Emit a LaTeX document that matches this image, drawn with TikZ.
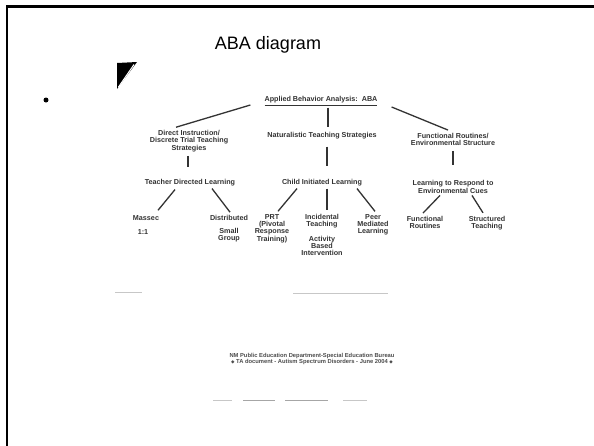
\documentclass[tikz,border=0pt]{standalone}
\usepackage{fontspec}
\setmainfont{Liberation Sans}
\newfontfamily\dejavu{DejaVu Sans}
\usetikzlibrary{calc}
\begin{document}
\begin{tikzpicture}[x=1pt,y=-1pt,
  lbl/.style={font=\fontsize{7.2}{7.2}\selectfont\bfseries, text=black!80, align=center, inner sep=0pt},
  conn/.style={draw=black!80, line width=1.3pt},
  faint/.style={draw=black!22, line width=0.7pt}]
\useasboundingbox (0,0) rectangle (594,445);
\fill[white] (0,0) rectangle (594,445);
\draw[line width=2.5pt] (7,460) -- (7,6.5) -- (610,6.5);
\node[font=\fontsize{18}{22}\selectfont] (title) at (268,45) {ABA diagram};
\node[circle, fill, inner sep=0pt, minimum size=5pt] (bullet) at (46,100) {};
% scan corner triangle
\fill (117,63) -- (137,62) -- (117,89) -- cycle;
\draw[white, line width=1pt] (134,64.5) -- (118.5,87);
% nodes
\node[lbl] (root) at (321,101) {\underline{Applied Behavior Analysis:\ \ ABA}};
\node[lbl] (di) at (189,141) {Direct Instruction/\\Discrete Trial Teaching\\Strategies};
\node[lbl] (nat) at (322,136) {Naturalistic Teaching Strategies};
\node[lbl] (fr) at (453,139.5) {Functional Routines/\\Environmental Structure};
\node[lbl] (tdl) at (190,183) {Teacher Directed Learning};
\node[lbl] (cil) at (322,183) {Child Initiated Learning};
\node[lbl] (lrc) at (453,187) {Learning to Respond to\\Environmental Cues};
\node[lbl] (mass) at (146,218) {Massec};
\node[lbl] (one) at (143,232) {1:1};
\node[lbl] (dist) at (229,218) {Distributed};
\node[lbl] (small) at (229,235) {Small\\Group};
\node[lbl] (prt) at (272,228.5) {PRT\\(Pivotal\\Response\\Training)};
\node[lbl] (inc) at (322,221.5) {Incidental\\Teaching};
\node[lbl] (abi) at (322,246) {Activity\\Based\\Intervention};
\node[lbl] (peer) at (373,225) {Peer\\Mediated\\Learning};
\node[lbl] (fun) at (425,222.5) {Functional\\Routines};
\node[lbl] (st) at (487,223) {Structured\\Teaching};
% connectors
\draw[conn] ($(root.west)+(-14,4)$) -- ($(di.north)+(-13,-3)$);
\draw[conn] ($(root.south)+(7,2)$) -- ($(nat.north)+(6,-5)$);
\draw[conn] ($(root.east)+(14,6)$) -- ($(fr.north)+(-5,-3)$);
\draw[conn] ($(di.south)+(-1,4)$) -- ($(tdl.north)+(-2,-12)$);
\draw[conn] ($(nat.south)+(5,7)$) -- ($(cil.north)+(5,-13)$);
\draw[conn] ($(fr.south)+(0,5)$) -- ($(lrc.north)+(0,-16)$);
\draw[conn] ($(tdl.south)+(-15,3)$) -- ($(mass.north)+(12,-5)$);
\draw[conn] ($(tdl.south)+(22,2)$) -- ($(dist.north)+(1,-3)$);
\draw[conn] ($(cil.south)+(-25,2)$) -- ($(prt.north)+(6,-3)$);
\draw[conn] ($(cil.south)+(5,2)$) -- ($(inc.north)+(5,-4)$);
\draw[conn] ($(cil.south)+(35,2)$) -- ($(peer.north)+(2,-3)$);
\draw[conn] ($(lrc.south)+(-13,2)$) -- ($(fun.north)+(-2,-3)$);
\draw[conn] ($(lrc.south)+(19,2)$) -- ($(st.north)+(-4,-3)$);
% footer
\node[lbl, font=\fontsize{5.8}{6.5}\selectfont\bfseries, text=black!70] (foot) at (312,359) {NM Public Education Department-Special Education Bureau\\{\dejavu\fontsize{4.5}{5}\selectfont ◆} TA document - Autism Spectrum Disorders - June 2004 {\dejavu\fontsize{4.5}{5}\selectfont ◆}};
% faint scan lines
\draw[faint] (115,292) -- (142,292);
\draw[faint] (293,293) -- (388,293);
\draw[faint] (213,400) -- (232,400);
\draw[faint, draw=black!35] (243,400) -- (275,400);
\draw[faint, draw=black!35] (285,400) -- (328,400);
\draw[faint] (343,400) -- (367,400);
\end{tikzpicture}
\end{document}
